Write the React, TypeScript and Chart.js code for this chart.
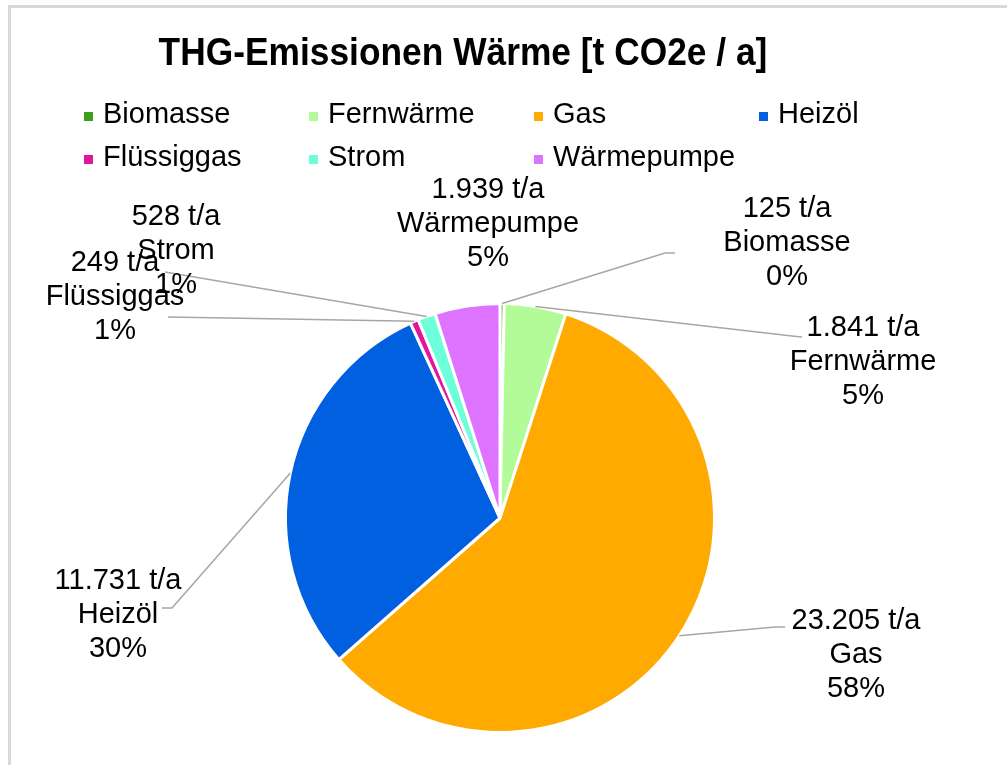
import React, { useEffect, useRef } from "react";
import { Chart, registerables } from "chart.js";

Chart.register(...registerables);

const titleText = "THG-Emissionen Wärme [t CO2e / a]";
const categories = ["Biomasse", "Fernwärme", "Gas", "Heizöl", "Flüssiggas", "Strom", "Wärmepumpe"];
const emissions = [125, 1841, 23205, 11731, 249, 528, 1939];
const percentLabels = [0, 5, 58, 30, 1, 1, 5];
const unitLabel = "t/a";
const sliceColors = ["#3c9e1a", "#b3fb98", "#ffaa00", "#0060df", "#e0169b", "#6dffd9", "#dd73ff"];

// legend layout: order of rows/columns
const legendRows = [
  ["Biomasse", "Fernwärme", "Gas", "Heizöl"],
  ["Flüssiggas", "Strom", "Wärmepumpe"],
];

// label layout (text center x, middle line y, leader path from pie edge to label)
const labelLayout = [
  { x: 787, y: 243, path: [[665, 253], [675, 253]] },
  { x: 863, y: 362, path: [[792, 336], [802, 337]] },
  { x: 856, y: 655, path: [[775, 627], [785, 627]] },
  { x: 118, y: 615, path: [[172, 608], [162, 608]] },
  { x: 115, y: 297, path: [[168, 317]] },
  { x: 176, y: 251, path: [[165, 272]] },
  { x: 488, y: 224, path: null as null | number[][] },
];

const FONT = '"Liberation Sans", Arial, sans-serif';

function fmt(n: number) {
  return String(n).replace(/\B(?=(\d{3})+(?!\d))/g, ".");
}

const overlayPlugin = {
  id: "overlay",
  beforeDraw(chart: any) {
    const ctx = chart.ctx;
    ctx.save();
    ctx.fillStyle = "#ffffff";
    ctx.fillRect(0, 0, chart.width, chart.height);
    ctx.fillStyle = "#d9d9d9";
    ctx.fillRect(8, 5, chart.width - 8, 3);
    ctx.fillRect(8, 5, 3, chart.height - 5);
    ctx.restore();
  },
  afterDraw(chart: any) {
    const ctx = chart.ctx;
    ctx.save();
    // title (slightly condensed)
    ctx.fillStyle = "#000";
    ctx.font = `bold 38px ${FONT}`;
    ctx.textAlign = "center";
    ctx.textBaseline = "middle";
    ctx.save();
    ctx.translate(463, 55);
    ctx.scale(0.93, 1);
    ctx.fillText(titleText, 0, 0);
    ctx.restore();

    // legend
    ctx.font = `29px ${FONT}`;
    ctx.textAlign = "left";
    legendRows.forEach((row, r) => {
      row.forEach((name, c) => {
        const i = categories.indexOf(name);
        const tx = 103 + c * 225;
        const ty = 115 + r * 43;
        ctx.fillStyle = sliceColors[i];
        ctx.fillRect(tx - 19, ty - 3, 9, 9);
        ctx.fillStyle = "#000";
        ctx.fillText(name, tx, ty);
      });
    });

    // leader lines + labels
    const meta = chart.getDatasetMeta(0);
    ctx.strokeStyle = "#a6a6a6";
    ctx.lineWidth = 1.5;
    meta.data.forEach((arc: any, i: number) => {
      const lay = labelLayout[i];
      if (!lay.path) return;
      const p = arc.getProps(["x", "y", "startAngle", "endAngle", "outerRadius"], true);
      const mid = (p.startAngle + p.endAngle) / 2;
      const sx = p.x + Math.cos(mid) * p.outerRadius;
      const sy = p.y + Math.sin(mid) * p.outerRadius;
      ctx.beginPath();
      ctx.moveTo(sx, sy);
      lay.path.forEach((pt) => ctx.lineTo(pt[0], pt[1]));
      ctx.stroke();
    });
    ctx.fillStyle = "#000";
    ctx.textAlign = "center";
    ctx.font = `29px ${FONT}`;
    categories.forEach((name, i) => {
      const lay = labelLayout[i];
      ctx.fillText(`${fmt(emissions[i])} ${unitLabel}`, lay.x, lay.y - 34);
      ctx.fillText(name, lay.x, lay.y);
      ctx.fillText(`${percentLabels[i]}%`, lay.x, lay.y + 34);
    });
    ctx.restore();
  },
};

export default function App() {
  const ref = useRef<HTMLCanvasElement | null>(null);
  useEffect(() => {
    if (!ref.current) return;
    const chart = new Chart(ref.current, {
      type: "pie",
      data: {
        labels: categories,
        datasets: [
          {
            data: emissions,
            backgroundColor: sliceColors,
            borderColor: "#ffffff",
            borderWidth: 3,
            hoverOffset: 0,
          },
        ],
      },
      options: {
        responsive: false,
        animation: false,
        layout: { padding: { left: 284, right: 291, top: 302, bottom: 31 } },
        plugins: {
          legend: { display: false },
          title: { display: false },
          tooltip: { enabled: false },
        },
      },
      plugins: [overlayPlugin],
    });
    return () => chart.destroy();
  }, []);
  return (
    <div style={{ position: "fixed", left: 0, top: 0, width: 1007, height: 765, background: "#fff" }}>
      <canvas ref={ref} width={1007} height={765} style={{ display: "block" }} />
    </div>
  );
}
